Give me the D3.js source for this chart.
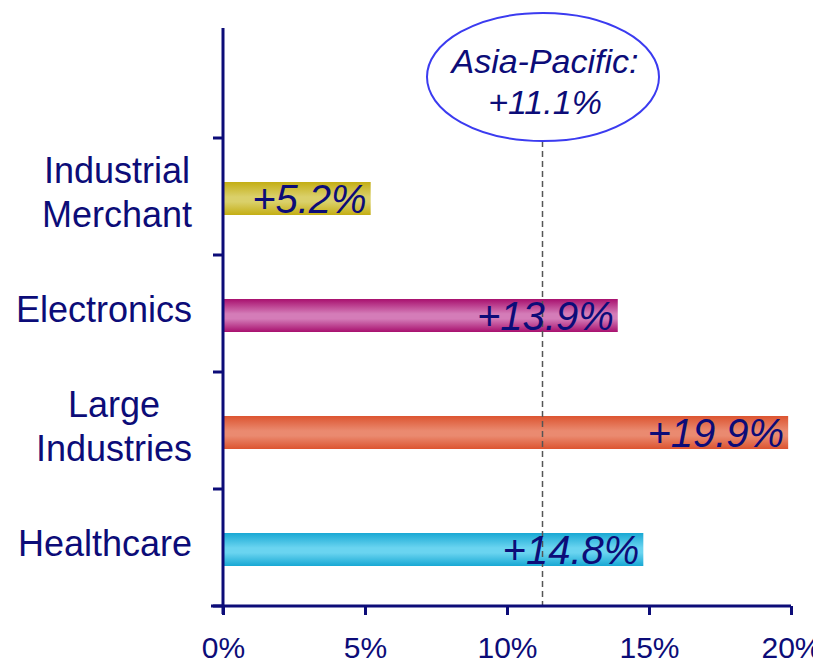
<!DOCTYPE html>
<html><head><meta charset="utf-8">
<script src="https://cdn.jsdelivr.net/npm/d3@7"></script>
<style>body{margin:0;background:#fff}svg{display:block}</style>
</head><body>
<script>
const categories = ["", "Industrial\nMerchant", "Electronics", "Large\nIndustries", "Healthcare"];
const values = [null, 5.2, 13.9, 19.9, 14.8];
const labels = ["", "+5.2%", "+13.9%", "+19.9%", "+14.8%"];
const barColors = [null, ["#C4AE14","#DAD06A"], ["#A8106E","#D47CB8"], ["#DC5430","#EA8A70"], ["#18A8D4","#6AD4F0"]];
const xTicks = [0, 5, 10, 15, 20];
const regionLabel = ["Asia-Pacific:", "+11.1%"];
const regionValue = 11.25;

const W = 813, H = 665;
const navy = "#0C0C78";
const font = "Liberation Sans, Arial, sans-serif";
const svg = d3.select("body").append("svg").attr("width", W).attr("height", H);
const x = d3.scaleLinear().domain([0, 20]).range([223, 791]);
const y = d3.scaleBand().domain(d3.range(categories.length)).range([21, 606]).paddingInner(0).paddingOuter(0);

const defs = svg.append("defs");
barColors.forEach((c, i) => {
  if (!c) return;
  const g = defs.append("linearGradient").attr("id", "g" + i).attr("x1", 0).attr("y1", 0).attr("x2", 0).attr("y2", 1);
  g.append("stop").attr("offset", "0%").attr("stop-color", c[0]);
  g.append("stop").attr("offset", "45%").attr("stop-color", c[1]);
  g.append("stop").attr("offset", "60%").attr("stop-color", c[1]);
  g.append("stop").attr("offset", "100%").attr("stop-color", c[0]);
});

const barH = 33;
const cyOf = i => y(i) + y.bandwidth() / 2 + 2;
values.forEach((v, i) => {
  if (v == null) return;
  svg.append("rect").attr("x", x(0)).attr("y", cyOf(i) - barH / 2).attr("width", x(v) - x(0)).attr("height", barH)
    .attr("fill", `url(#g${i})`);
});

// dashed line
svg.append("line").attr("x1", x(regionValue)).attr("x2", x(regionValue)).attr("y1", 141).attr("y2", 606)
  .attr("stroke", "#555").attr("stroke-width", 1.5).attr("stroke-dasharray", "6,4");

// value labels
values.forEach((v, i) => {
  if (v == null) return;
  svg.append("text").attr("x", x(v) - 4).attr("y", cyOf(i) + 14).attr("text-anchor", "end")
    .attr("font-family", font).attr("font-style", "italic").attr("font-size", 40)
    .attr("fill", navy).text(labels[i]);
});

// category labels: block right-aligned near axis, lines centred within block
categories.forEach((c, i) => {
  if (!c) return;
  const lines = c.split("\n");
  const cy = cyOf(i);
  const t = svg.append("text").attr("text-anchor", "middle").attr("font-family", font)
    .attr("font-size", 36).attr("fill", navy);
  const spans = lines.map((l, k) => t.append("tspan").attr("y", cy + 6 + (k - (lines.length - 1) / 2) * 44).text(l));
  const maxW = d3.max(spans, s => s.node().getComputedTextLength());
  const cx = 192 - maxW / 2;
  spans.forEach(s => s.attr("x", cx));
});

// axes
const xAxis = d3.axisBottom(x).tickValues(xTicks).tickFormat(d => d + "%").tickSize(9).tickSizeOuter(0);
const gx = svg.append("g").attr("transform", "translate(0,606)").call(xAxis);
gx.select(".domain").attr("stroke", navy).attr("stroke-width", 3).attr("d", `M${x(0) - 12},0H${x(20)}`);
gx.selectAll(".tick line").attr("stroke", navy).attr("stroke-width", 3);
gx.selectAll(".tick text").attr("fill", navy).attr("font-family", font)
  .attr("font-size", 30).attr("dy", 0).attr("y", 52);

const gy = svg.append("g").attr("transform", `translate(${x(0)},0)`);
gy.append("line").attr("x1", 0).attr("x2", 0).attr("y1", 28).attr("y2", 614).attr("stroke", navy).attr("stroke-width", 3);
d3.range(1, categories.length + 1).forEach(i => {
  const yy = i < categories.length ? y(i) : 606;
  gy.append("line").attr("x1", -10).attr("x2", 0).attr("y1", yy).attr("y2", yy).attr("stroke", navy).attr("stroke-width", 3);
});

// ellipse annotation
svg.append("ellipse").attr("cx", 543).attr("cy", 77).attr("rx", 116).attr("ry", 64)
  .attr("fill", "#fff").attr("stroke", "#3B3BF0").attr("stroke-width", 2);
const at = svg.append("text").attr("text-anchor", "middle").attr("font-family", font)
  .attr("font-style", "italic").attr("font-size", 34).attr("fill", navy);
regionLabel.forEach((l, k) => at.append("tspan").attr("x", 545).attr("y", 73 + k * 41).text(l));
</script>
</body></html>
